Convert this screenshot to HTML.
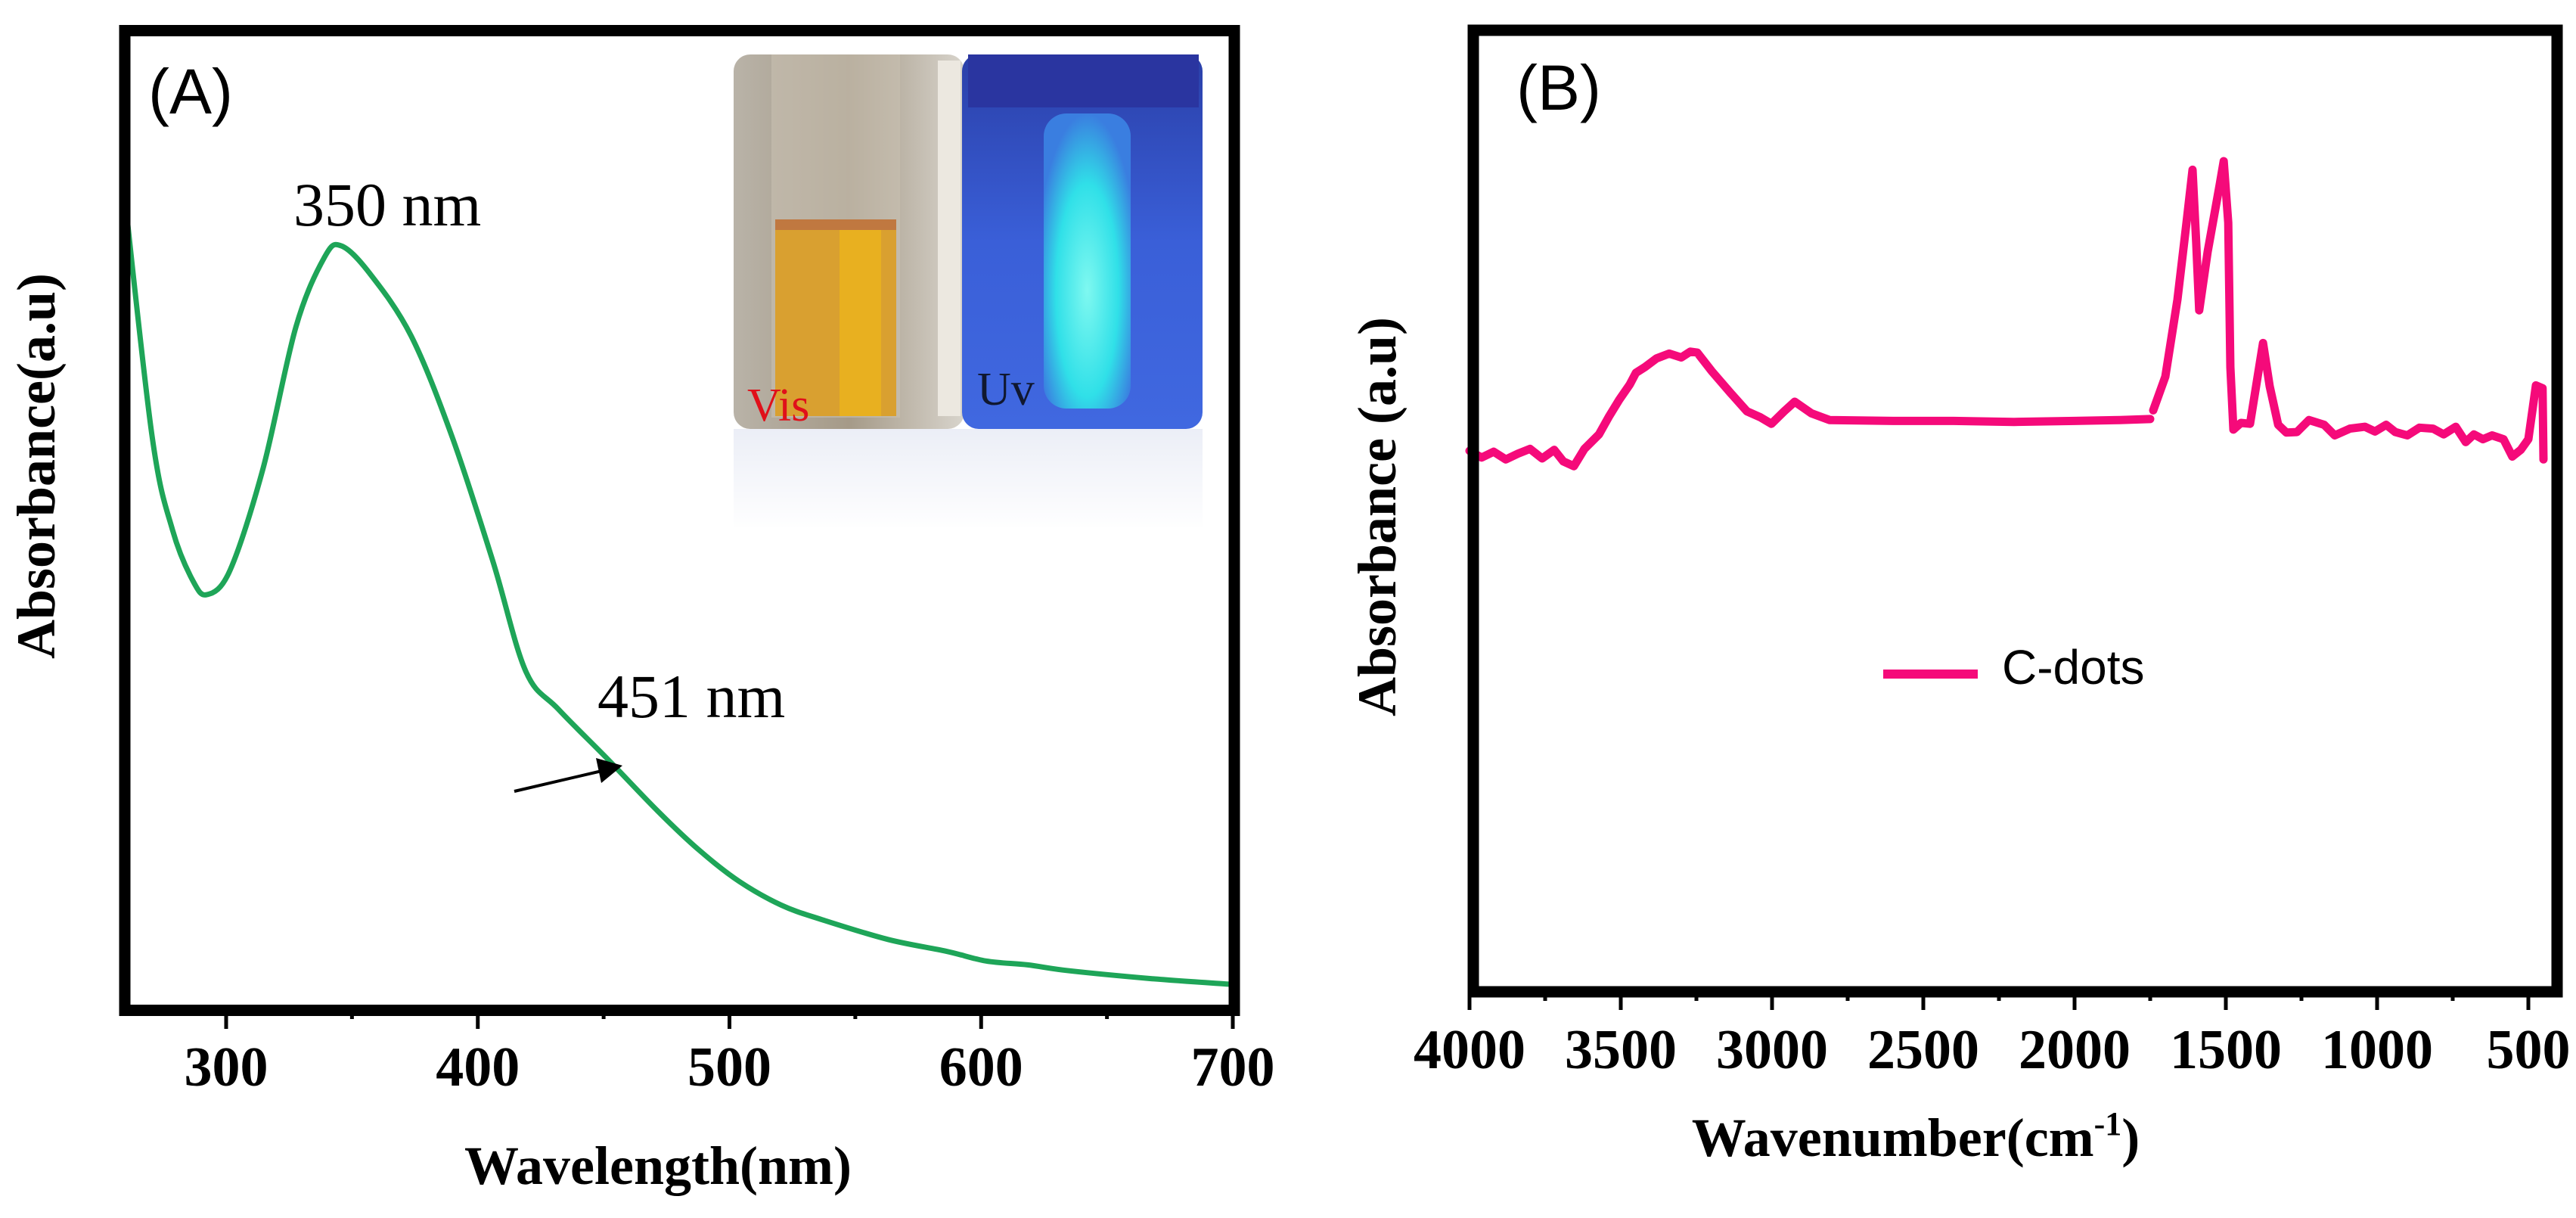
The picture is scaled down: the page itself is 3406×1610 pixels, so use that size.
<!DOCTYPE html>
<html><head><meta charset="utf-8"><style>
html,body{margin:0;padding:0;background:#fff;}
svg{display:block;}
.tick{font-family:"Liberation Serif",serif;font-weight:bold;font-size:74px;fill:#000;}
.title{font-family:"Liberation Serif",serif;font-weight:bold;font-size:72px;fill:#000;}
.ann{font-family:"Liberation Serif",serif;font-size:82px;fill:#000;}
.lab{font-family:"Liberation Sans",sans-serif;font-size:84px;fill:#000;}
</style></head><body>
<svg id="fig" width="3406" height="1610" viewBox="0 0 3406 1610" xmlns="http://www.w3.org/2000/svg">
<defs>
<linearGradient id="visg" x1="0" x2="1" y1="0" y2="0">
<stop offset="0" stop-color="#b9b3a8"/><stop offset="0.5" stop-color="#a59a88"/><stop offset="1" stop-color="#d8d4cc"/></linearGradient>
<linearGradient id="uvg" x1="0" x2="0" y1="0" y2="1">
<stop offset="0" stop-color="#2a3fa8"/><stop offset="0.5" stop-color="#3a5fd8"/><stop offset="1" stop-color="#4068e0"/></linearGradient>
<linearGradient id="refl" x1="0" x2="0" y1="0" y2="1">
<stop offset="0" stop-color="#fff" stop-opacity="0.3"/><stop offset="1" stop-color="#fff" stop-opacity="1"/></linearGradient>
<radialGradient id="glow" cx="0.5" cy="0.6" r="0.6">
<stop offset="0" stop-color="#7ff8f0"/><stop offset="0.6" stop-color="#30e0e8"/><stop offset="1" stop-color="#3a7ee0"/></radialGradient>
</defs>
<g id="panelA">
 <g>
  <rect x="970" y="72" width="305" height="495" rx="22" fill="url(#visg)"/>
  <rect x="1020" y="72" width="170" height="480" fill="#c8c0b0" opacity="0.6"/>
  <rect x="1025" y="300" width="160" height="250" fill="#d9a030"/>
  <rect x="1110" y="300" width="55" height="250" fill="#e8b020"/>
  <rect x="1025" y="290" width="160" height="14" fill="#c07840"/>
  <rect x="1240" y="80" width="30" height="470" fill="#ece8e0"/>
  <rect x="1272" y="72" width="318" height="495" rx="22" fill="url(#uvg)"/>
  <rect x="1280" y="72" width="305" height="70" fill="#2a35a0"/>
  <rect x="1380" y="150" width="115" height="390" rx="30" fill="url(#glow)"/>
  <rect x="970" y="567" width="620" height="130" fill="#c8d0e8" opacity="0.5"/>
  <rect x="970" y="567" width="620" height="135" fill="url(#refl)"/>
  <text x="988" y="556" font-family="Liberation Serif,serif" font-size="62" fill="#e0101a">Vis</text>
  <text x="1292" y="535" font-family="Liberation Serif,serif" font-size="62" fill="#101830">Uv</text>
 </g>
 <g id="axA"></g>
 <text class="lab" x="196" y="150">(A)</text>
 <text class="ann" x="388" y="298">350 nm</text>
 <text class="ann" x="790" y="948">451 nm</text>
 <line x1="680" y1="1046" x2="800" y2="1018" stroke="#000" stroke-width="4"/>
 <polygon points="823,1012 788,1002 795,1035" fill="#000"/>
 <text class="title" x="870" y="1565" text-anchor="middle">Wavelength(nm)</text>
 <text class="title" x="0" y="0" text-anchor="middle" transform="translate(72,616) rotate(-90)" font-size="68">Absorbance(a.u)</text>
</g>
<g id="panelB">
 <g id="axB"></g>
 <text class="lab" x="2005" y="145">(B)</text>
 <line x1="2490" y1="891" x2="2615" y2="891" stroke="#f50a7a" stroke-width="12"/>
 <text x="2647" y="904" font-family="Liberation Sans,sans-serif" font-size="64">C-dots</text>
 <text class="title" x="2533" y="1528" text-anchor="middle">Wavenumber(cm<tspan font-size="44" dy="-28">-1</tspan><tspan dy="28">)</tspan></text>
 <text class="title" x="0" y="0" text-anchor="middle" transform="translate(1845,683) rotate(-90)" font-size="70">Absorbance (a.u)</text>
</g>
</svg>
<script>
// Panel A data
const uvWavelength=[259,270.6,278.7,286.8,292.5,301.6,314.7,327.7,339,345.7,357,373.5,389.8,406,419,432,452,471.5,488,504,520.6,537,563,586,602,618.5,635,667.5,700];
const uvAbsorbance=[84.7,58.5,49,43.8,42.4,44.9,55.3,69.7,76.8,78,75.2,68.8,58.5,45.8,34.6,30.7,25.5,20.3,16.3,13.1,10.7,9.2,7.2,6.0,5.0,4.6,4.0,3.2,2.6];
const uvTicks=[300,400,500,600,700];
const uvMinor=[350,450,550,650];
// Panel B data
const irWaveLeft=[4000,3960,3920,3880,3840,3800,3760,3720,3690,3655,3620,3572,3540,3505,3470,3450,3420,3382,3340,3300,3270,3247,3200,3137,3083,3040,3002,2960,2925,2870,2810,2600,2400,2200,2000,1850,1750];
const irAbsLeft=[56.3,55.6,56.2,55.4,56.0,56.5,55.5,56.4,55.2,54.7,56.5,58,59.8,61.6,63.2,64.4,65.0,65.9,66.4,66.0,66.6,66.5,64.6,62.3,60.4,59.8,59.1,60.4,61.4,60.2,59.5,59.4,59.4,59.3,59.4,59.5,59.6];
const irWaveRight=[1740,1700,1660,1630,1610,1598,1588,1560,1520,1507,1492,1485,1475,1450,1420,1400,1377,1355,1327,1300,1265,1225,1175,1140,1090,1040,1007,970,940,900,860,815,780,740,707,680,650,620,582,553,525,500,475,453,450];
const irAbsRight=[60.5,64,72,80,85.5,78,70.9,77,84,86.4,80,65,58.5,59.2,59.1,63,67.5,63,59.0,58.2,58.25,59.5,59.0,57.9,58.6,58.8,58.3,59.0,58.25,57.9,58.7,58.6,58.0,58.8,57.2,58.0,57.5,57.9,57.5,55.7,56.4,57.5,63.1,62.8,55.4];
const irTicks=[4000,3500,3000,2500,2000,1500,1000,500];
const irMinor=[3750,3250,2750,2250,1750,1250,750];

const NS="http://www.w3.org/2000/svg";
function mk(tag,attrs,parent){const e=document.createElementNS(NS,tag);for(const k in attrs)e.setAttribute(k,attrs[k]);parent.appendChild(e);return e;}
function xA(v){return 299+(v-300)*3.3275;}
function yA(a){return 1335-a*12.95;}
function xB(w){return 1943+(4000-w)*0.4;}
function yB(a){return 1312-a*12.72;}
function smooth(pts){let d="M"+pts[0][0]+","+pts[0][1];for(let i=0;i<pts.length-1;i++){const p0=pts[Math.max(i-1,0)],p1=pts[i],p2=pts[i+1],p3=pts[Math.min(i+2,pts.length-1)];
const c1x=p1[0]+(p2[0]-p0[0])/6,c1y=p1[1]+(p2[1]-p0[1])/6,c2x=p2[0]-(p3[0]-p1[0])/6,c2y=p2[1]-(p3[1]-p1[1])/6;
d+=" C"+c1x.toFixed(1)+","+c1y.toFixed(1)+" "+c2x.toFixed(1)+","+c2y.toFixed(1)+" "+p2[0].toFixed(1)+","+p2[1].toFixed(1);}return d;}

const axA=document.getElementById('axA');
const ptsA=uvWavelength.map((v,i)=>[xA(v),yA(uvAbsorbance[i])]);
const curveA=mk('path',{d:smooth(ptsA),fill:'none',stroke:'#1ea558','stroke-width':7,'stroke-linejoin':'round'},axA);


const frameA=mk('rect',{x:165,y:40.5,width:1467,height:1295,fill:'none',stroke:'#000','stroke-width':15},axA);


uvTicks.forEach(v=>{
 const t=mk('line',{x1:xA(v),x2:xA(v),y1:1342,y2:1360,stroke:'#000','stroke-width':5},axA);
 
 
 const l=mk('text',{x:xA(v),y:1435,'text-anchor':'middle','class':'tick'},axA);
 
 
 l.textContent=v;
});
uvMinor.forEach(v=>{
 const t=mk('line',{x1:xA(v),x2:xA(v),y1:1342,y2:1347,stroke:'#000','stroke-width':5},axA);
 
 
});

const axB=document.getElementById('axB');
function poly(ws,as){return ws.map((w,i)=>(i?"L":"M")+xB(w).toFixed(1)+","+yB(as[i]).toFixed(1)).join(" ");}
const lb=mk('path',{d:poly(irWaveLeft,irAbsLeft),fill:'none',stroke:'#f50a7a','stroke-width':11,'stroke-linejoin':'round','stroke-linecap':'round'},axB);


const rb=mk('path',{d:poly(irWaveRight,irAbsRight),fill:'none',stroke:'#f50a7a','stroke-width':11,'stroke-linejoin':'round','stroke-linecap':'round'},axB);


const frameB=mk('rect',{x:1948,y:40,width:1433,height:1271,fill:'none',stroke:'#000','stroke-width':15},axB);


irTicks.forEach(w=>{
 const t=mk('line',{x1:xB(w),x2:xB(w),y1:1318,y2:1335,stroke:'#000','stroke-width':5},axB);
 
 
 const l=mk('text',{x:xB(w),y:1412,'text-anchor':'middle','class':'tick'},axB);
 
 
 l.textContent=w;
});
irMinor.forEach(w=>{
 const t=mk('line',{x1:xB(w),x2:xB(w),y1:1318,y2:1323,stroke:'#000','stroke-width':5},axB);
 
 
});
</script>
</body></html>
